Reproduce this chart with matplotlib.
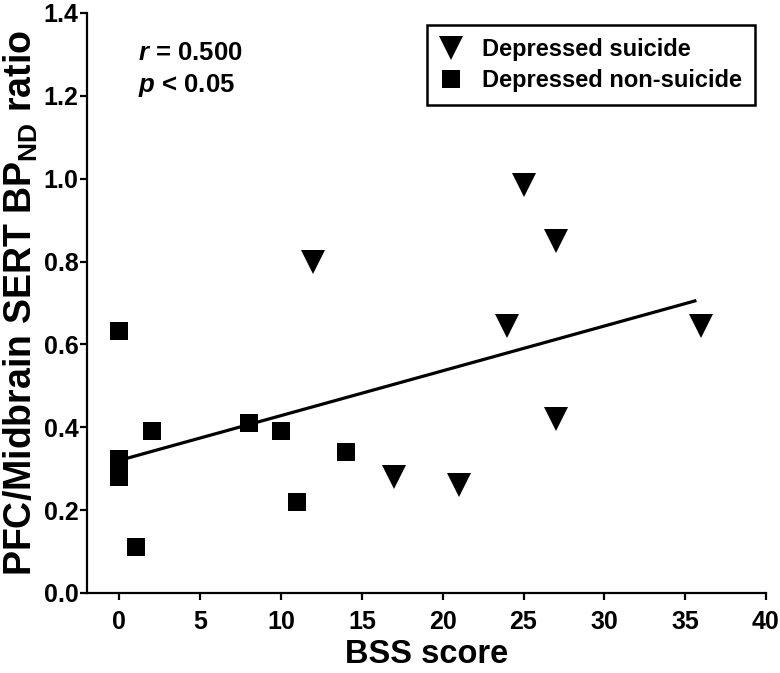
import numpy as np
import matplotlib
matplotlib.use("Agg")
import matplotlib.pyplot as plt

# BSS score vs PFC/midbrain SERT BPnd ratio
suicide_bss = [12, 17, 21, 24, 25, 27, 27, 36]
suicide_ratio = [0.80, 0.28, 0.26, 0.645, 0.985, 0.85, 0.42, 0.645]

nonsuicide_bss = [0, 0, 0, 1, 2, 8, 10, 11, 14]
nonsuicide_ratio = [0.633, 0.323, 0.281, 0.11, 0.39, 0.41, 0.39, 0.22, 0.34]

x_ticks = [0, 5, 10, 15, 20, 25, 30, 35, 40]
y_ticks = [0.0, 0.2, 0.4, 0.6, 0.8, 1.0, 1.2, 1.4]
fit_range = (0, 35.6)

plt.rcParams["font.family"] = ["Liberation Sans", "DejaVu Sans"]
plt.rcParams["font.weight"] = "bold"
plt.rcParams["mathtext.fontset"] = "custom"
plt.rcParams["mathtext.rm"] = "Liberation Sans:bold"
plt.rcParams["mathtext.bf"] = "Liberation Sans:bold"
plt.rcParams["mathtext.it"] = "Liberation Sans:bold:italic"

fig = plt.figure(figsize=(7.8, 6.73), dpi=100)
ax = fig.add_axes([87 / 780, 80 / 673, 679 / 780, 580 / 673])

ax.plot(suicide_bss, suicide_ratio, "v", color="black", ms=17, mew=0,
        ls="none", label="Depressed suicide", zorder=3)
ax.plot(nonsuicide_bss, nonsuicide_ratio, "s", color="black", ms=13.5, mew=0,
        ls="none", label="Depressed non-suicide", zorder=3)

# linear regression over all subjects
all_x = np.array(suicide_bss + nonsuicide_bss, dtype=float)
all_y = np.array(suicide_ratio + nonsuicide_ratio)
slope, icpt = np.polyfit(all_x, all_y, 1)
fx = np.array(fit_range)
ax.plot(fx, slope * fx + icpt, color="black", lw=2.3, zorder=2)

ax.set_xlim(-2, 40)
ax.set_ylim(0, 1.4)
ax.set_xticks(x_ticks)
ax.set_yticks(y_ticks)
ax.set_yticklabels([f"{v:.1f}" for v in y_ticks])
for s in ("top", "right"):
    ax.spines[s].set_visible(False)
for s in ("left", "bottom"):
    ax.spines[s].set_linewidth(1.6)
ax.tick_params(axis="both", length=5, width=1.6, labelsize=18, direction="out")
ax.tick_params(axis="y", pad=1)
ax.tick_params(axis="x", pad=7)

ax.set_xlabel("BSS score", fontsize=23.5, fontweight="bold", va="baseline")
ax.xaxis.set_label_coords(0.5, -0.12)
ax.set_ylabel(r"PFC/Midbrain SERT BP$_{\mathrm{ND}}$ ratio", fontsize=27,
              fontweight="bold", labelpad=3)

ax.text(0.075, 0.919, r"$r$ = 0.500", transform=ax.transAxes, fontsize=18.5,
        fontweight="bold", va="baseline", ha="left")
ax.text(0.075, 0.864, r"$p$ < 0.05", transform=ax.transAxes, fontsize=18.5,
        fontweight="bold", va="baseline", ha="left")

leg = ax.legend(loc="upper right", bbox_to_anchor=(0.984, 0.979), borderaxespad=0,
                fancybox=False, framealpha=1, edgecolor="black",
                handletextpad=0.8, borderpad=0.55, labelspacing=0.35,
                handlelength=1.0, prop={"weight": "bold", "size": 17})
leg.get_frame().set_linewidth(1.8)

fig.savefig("out.png", dpi=100)
